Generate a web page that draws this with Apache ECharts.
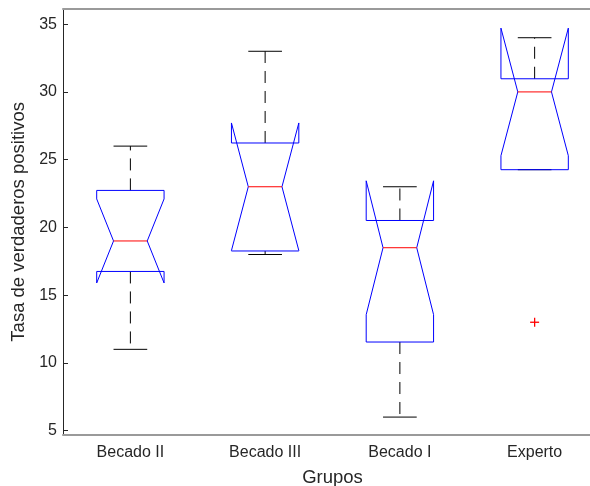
<!DOCTYPE html>
<html>
<head>
<meta charset="utf-8">
<script src="https://cdn.jsdelivr.net/npm/echarts@6/dist/echarts.min.js"></script>
<style>
html,body{margin:0;padding:0;background:#fff;}
#chart{width:590px;height:486px;}
</style>
</head>
<body>
<div id="chart"></div>
<script>
// ---- data ----
var categories = ['Becado II', 'Becado III', 'Becado I', 'Experto'];
var whiskerLow  = [11, 18, 6, 24.26];
var q1          = [16.75, 18.26, 11.54, 24.26];
var notchLow    = [15.9, 18.29, 13.56, 25.29];
var medians     = [19, 23, 18.5, 30];
var notchHigh   = [22.1, 27.71, 23.44, 34.71];
var q3          = [22.73, 26.23, 20.51, 30.97];
var whiskerHigh = [26, 33, 23, 34];
var outlierGroup = [3];
var outlierValue = [13];

var FONT = "'Liberation Sans', Arial, Helvetica, sans-serif";
var TXT = '#262626';

var boxData = categories.map(function (c, i) {
  return [i, whiskerLow[i], q1[i], notchLow[i], medians[i], notchHigh[i], q3[i], whiskerHigh[i]];
});
var outlierData = outlierGroup.map(function (g, i) { return [g, outlierValue[i]]; });

function renderBox(params, api) {
  var i = api.value(0);
  var band = api.size([1, 0])[0];
  var w = band * 0.25, nw = band * 0.125, cw = band * 0.125;
  var cx = api.coord([i, 0])[0];
  function y(v) { return api.coord([i, v])[1]; }
  var wl = y(api.value(1)), b1 = y(api.value(2)), nl = y(api.value(3)),
      md = y(api.value(4)), nh = y(api.value(5)), b3 = y(api.value(6)), wh = y(api.value(7));
  var blk = { stroke: '#000', lineWidth: 1 };
  var dash = { stroke: '#000', lineWidth: 1, lineDash: [12, 8] };
  var children = [
    { type: 'line', shape: { x1: cx, y1: b3, x2: cx, y2: wh }, style: dash },
    { type: 'line', shape: { x1: cx, y1: b1, x2: cx, y2: wl }, style: dash },
    { type: 'line', shape: { x1: cx - cw, y1: wh, x2: cx + cw, y2: wh }, style: blk },
    { type: 'line', shape: { x1: cx - cw, y1: wl, x2: cx + cw, y2: wl }, style: blk },
    { type: 'polygon', shape: { points: [
        [cx - w, b1], [cx - w, nl], [cx - nw, md], [cx - w, nh], [cx - w, b3],
        [cx + w, b3], [cx + w, nh], [cx + nw, md], [cx + w, nl], [cx + w, b1]
      ] }, style: { fill: 'none', stroke: '#0000ff', lineWidth: 1 } },
    { type: 'line', shape: { x1: cx - nw, y1: md, x2: cx + nw, y2: md }, style: { stroke: '#ff0000', lineWidth: 1 } }
  ];
  return { type: 'group', children: children };
}

function renderOutlier(params, api) {
  var p = api.coord([api.value(0), api.value(1)]);
  var s = 4.5;
  return { type: 'group', children: [
    { type: 'line', shape: { x1: p[0] - s, y1: p[1], x2: p[0] + s, y2: p[1] }, style: { stroke: '#ff0000', lineWidth: 1.3 } },
    { type: 'line', shape: { x1: p[0], y1: p[1] - s, x2: p[0], y2: p[1] + s }, style: { stroke: '#ff0000', lineWidth: 1.3 } }
  ] };
}

var chart = echarts.init(document.getElementById('chart'));
chart.setOption({
  animation: false,
  backgroundColor: '#fff',
  grid: { left: 63, top: 9, width: 539, height: 425.7, outerBoundsMode: 'none', containLabel: false },
  xAxis: [{
    type: 'category', data: categories, position: 'bottom', boundaryGap: true,
    axisLine: { lineStyle: { color: '#9a9a9a', width: 2 } },
    axisTick: { inside: true, alignWithLabel: true, length: 5, lineStyle: { color: TXT } },
    axisLabel: { color: TXT, fontSize: 16, fontFamily: FONT, margin: 10 },
    name: 'Grupos', nameLocation: 'middle', nameGap: 34,
    nameTextStyle: { color: TXT, fontSize: 18.5, fontFamily: FONT },
    splitLine: { show: false }
  }, {
    type: 'category', data: categories, position: 'top', boundaryGap: true,
    axisLine: { lineStyle: { color: '#9a9a9a', width: 2 } },
    axisTick: { inside: true, alignWithLabel: true, length: 5, lineStyle: { color: TXT } },
    axisLabel: { show: false },
    splitLine: { show: false }
  }],
  yAxis: {
    type: 'value', min: 4.7, max: 36.12, splitNumber: 6,
    axisLine: { show: true, lineStyle: { color: TXT, width: 1 } },
    axisTick: { show: true, inside: true, length: 5, lineStyle: { color: TXT } },
    axisLabel: { color: TXT, fontSize: 16, fontFamily: FONT, margin: 6, showMinLabel: false, showMaxLabel: false },
    splitLine: { show: false },
    name: 'Tasa de verdaderos positivos', nameLocation: 'middle', nameGap: 30,
    nameTextStyle: { color: TXT, fontSize: 18.5, fontFamily: FONT }
  },
  series: [{
    type: 'custom', renderItem: renderBox, data: boxData, xAxisIndex: 0,
    encode: { x: 0, y: [1, 2, 3, 4, 5, 6, 7] }, clip: false
  }, {
    type: 'custom', renderItem: renderOutlier, data: outlierData, xAxisIndex: 0,
    encode: { x: 0, y: 1 }
  }]
});
</script>
</body>
</html>
